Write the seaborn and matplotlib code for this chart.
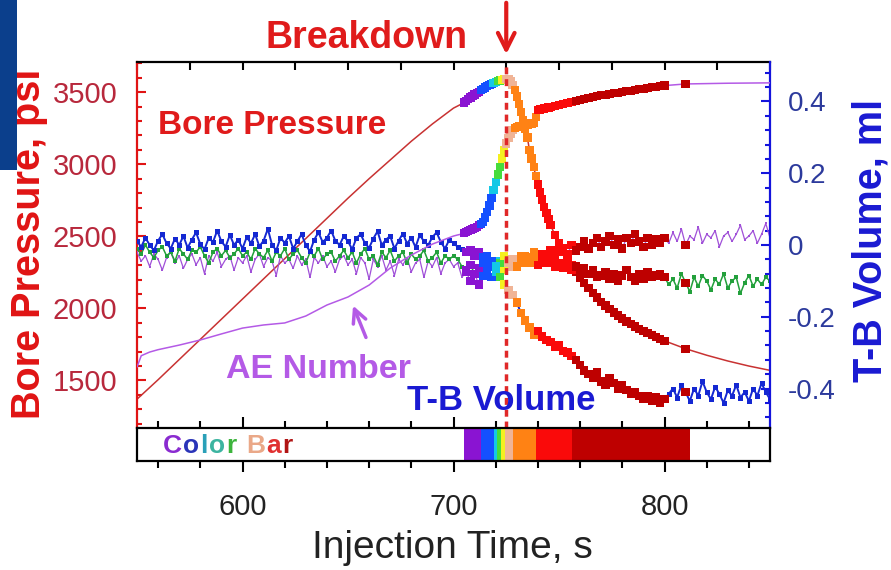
import numpy as np
import pandas as pd
import matplotlib
matplotlib.use("Agg")
import matplotlib.pyplot as plt
from matplotlib.patches import Rectangle
from matplotlib.text import Annotation
from matplotlib.ticker import MultipleLocator, FuncFormatter
import seaborn as sns

sns.set_theme(style="white")
plt.rcParams["font.family"] = ["Liberation Sans", "DejaVu Sans"]

# ---------------- measured series ----------------
# Bore pressure (psi)
pressure_t = ([550, 560, 570, 580, 590, 600, 610, 620, 630, 640, 650, 660, 670, 680, 690, 700, 702]
              + list(range(704, 746)) + list(range(746, 801, 2)) + [810, 820, 830, 840, 850])
pressure_psi = [1370, 1505, 1645, 1785, 1925, 2065, 2205, 2345, 2485, 2625, 2765, 2900, 3030, 3160,
                3280, 3390, 3405,
                3420, 3430, 3440, 3452, 3463, 3474, 3484, 3494, 3504, 3514,
                3524, 3533, 3542, 3550, 3558, 3565, 3571, 3577, 3582, 3586,
                3589, 3590, 3588, 3575, 3550, 3515, 3470, 3420, 3365, 3305,
                3245, 3185, 3100, 3040, 2980, 2920, 2860, 2805, 2755, 2705,
                2660, 2620,
                2580, 2510, 2450, 2395, 2345, 2300, 2255, 2215, 2175, 2140,
                2105, 2075, 2045, 2020, 1995, 1972, 1950, 1930, 1910, 1892,
                1875, 1858, 1843, 1828, 1814, 1800, 1787, 1775,
                1720, 1675, 1635, 1600, 1570]

# Cumulative acoustic-emission count
ae_t = ([550, 552, 556, 560, 570, 580, 590, 600, 610, 620, 630, 640, 650, 660, 670, 680, 690, 700, 702]
        + list(range(704, 746)) + list(range(746, 801, 2)) + [810, 820, 830, 840, 850])
ae_count = [333, 395, 415, 428, 453, 481, 514, 546, 563, 574, 612, 672, 716, 781, 874, 945, 1005, 1049, 1055,
            1060, 1065, 1071, 1076, 1082, 1087, 1093, 1100, 1108, 1116,
            1126, 1150, 1180, 1215, 1257, 1300, 1344, 1385, 1426, 1472,
            1519, 1555, 1585, 1610, 1629, 1640, 1645, 1648, 1650, 1653,
            1656, 1658, 1661, 1664, 1667, 1700, 1738, 1740, 1743, 1745,
            1748, 1751,
            1754, 1759, 1765, 1770, 1776, 1781, 1787, 1792, 1798, 1803,
            1809, 1814, 1818, 1821, 1825, 1829, 1832, 1836, 1840, 1843,
            1847, 1851, 1854, 1858, 1862, 1865, 1869, 1871,
            1880, 1882, 1884, 1885, 1886]

# Volume records (ml), one sample every 2 s
volume_t = list(range(550, 851, 2))
tb_volume = [0.01, -0.005, 0.02, 0.0, -0.015, 0.012, 0.03, 0.005, -0.01, 0.018,
             0.0, 0.025, -0.008, 0.015, 0.035, 0.002, -0.012, 0.02, 0.008, 0.04,
             0.01, -0.005, 0.028, 0.0, 0.015,
             -0.01, 0.022, 0.005, 0.03, -0.004, 0.012, 0.045, 0.0, -0.015, 0.02,
             0.006, 0.025, -0.01, 0.01, 0.03, 0.0, -0.018, 0.015, 0.035, 0.008,
             0.02, 0.04, 0.012, 0.0, 0.025,
             0.01, -0.012, 0.02, 0.03, 0.005, -0.008, 0.018, 0.038, 0.0, 0.015,
             0.025, -0.01, 0.012, 0.032, 0.004, 0.02, -0.006, 0.028, 0.01, 0.0,
             0.022, 0.035, 0.008, -0.01, 0.015,
             0.005, -0.005, -0.01, -0.02, -0.015, -0.03, -0.02, -0.035, -0.03, -0.045,
             -0.06, -0.09, -0.11, -0.125, -0.14, -0.16, -0.19, -0.21, -0.23, -0.25,
             -0.24, -0.255, -0.265, -0.27, -0.285,
             -0.28, -0.295, -0.3, -0.31, -0.32, -0.335, -0.35, -0.36, -0.37, -0.355,
             -0.38, -0.39, -0.37, -0.385, -0.4, -0.39, -0.405, -0.415, -0.41, -0.42,
             -0.43, -0.42, -0.435, -0.425, -0.44,
             -0.43, -0.415, -0.4, -0.425, -0.39, -0.41, -0.435, -0.4, -0.42, -0.38,
             -0.41, -0.43, -0.395, -0.415, -0.44, -0.405, -0.42, -0.39, -0.425, -0.41,
             -0.435, -0.4, -0.42, -0.385, -0.41, -0.43]
volume_green = [-0.01, -0.025, 0.0, -0.02, -0.035, -0.015, -0.005, -0.03, -0.02, -0.045,
                -0.01, -0.025, -0.04, -0.015, -0.02, -0.005, -0.03, -0.05, -0.02, -0.01,
                -0.03, -0.015, -0.035, -0.025, -0.01,
                -0.03, -0.02, -0.04, -0.01, -0.025, -0.035, -0.015, -0.045, -0.02, -0.03,
                -0.01, -0.04, -0.025, -0.015, -0.035, -0.05, -0.02, -0.03, -0.01, -0.04,
                -0.025, -0.02, -0.045, -0.03, -0.015,
                -0.035, -0.02, -0.05, -0.025, -0.01, -0.04, -0.03, -0.055, -0.02, -0.035,
                -0.015, -0.045, -0.03, -0.02, -0.05, -0.025, -0.04, -0.03, -0.015, -0.045,
                -0.035, -0.02, -0.05, -0.03, -0.04,
                -0.03, -0.04, -0.06, -0.07, -0.055, -0.08, -0.065, -0.05, -0.07, -0.06,
                -0.045, -0.05, -0.03, -0.05, -0.04, -0.06, -0.045, -0.03, -0.05, -0.04,
                -0.055, -0.035, -0.05, -0.045, -0.06,
                -0.05, -0.065, -0.055, -0.07, -0.06, -0.075, -0.065, -0.08, -0.07, -0.09,
                -0.085, -0.075, -0.095, -0.08, -0.1, -0.085, -0.07, -0.09, -0.1, -0.08,
                -0.095, -0.075, -0.09, -0.085, -0.08,
                -0.09, -0.11, -0.095, -0.12, -0.08, -0.105, -0.13, -0.09, -0.115, -0.085,
                -0.1, -0.125, -0.095, -0.11, -0.08, -0.12, -0.1, -0.09, -0.135, -0.105,
                -0.085, -0.115, -0.095, -0.11, -0.09, -0.1]
volume_violet = [-0.02, -0.045, -0.03, -0.06, -0.025, -0.04, -0.07, -0.035, -0.02, -0.05,
                 -0.03, -0.065, -0.04, -0.025, -0.055, -0.035, -0.08, -0.03, -0.045, -0.02,
                 -0.06, -0.04, -0.03, -0.07, -0.035,
                 -0.05, -0.03, -0.075, -0.04, -0.025, -0.06, -0.035, -0.045, -0.085, -0.03,
                 -0.05, -0.04, -0.065, -0.03, -0.055, -0.04, -0.09, -0.035, -0.05, -0.03,
                 -0.06, -0.045, -0.075, -0.04, -0.03,
                 -0.055, -0.04, -0.08, -0.035, -0.05, -0.095, -0.04, -0.06, -0.03, -0.07,
                 -0.045, -0.085, -0.04, -0.055, -0.035, -0.075, -0.05, -0.04, -0.09, -0.045,
                 -0.06, -0.035, -0.08, -0.05, -0.04,
                 -0.06, -0.05, -0.09, -0.075, -0.1, -0.08, -0.11, -0.085, -0.07, -0.09,
                 -0.075, -0.06, -0.07, -0.04, -0.06, -0.045, -0.03, -0.05, -0.035, -0.02,
                 -0.04, -0.025, -0.035, -0.015, -0.03,
                 -0.02, -0.01, -0.025, 0.0, -0.015, -0.005, 0.01, -0.01, 0.005, 0.02,
                 -0.005, 0.01, 0.025, 0.0, 0.015, -0.01, 0.02, 0.005, 0.03, 0.01,
                 -0.005, 0.02, 0.0, 0.015, 0.005,
                 0.02, 0.005, 0.035, 0.01, 0.045, 0.0, 0.025, 0.015, 0.05, 0.005,
                 0.03, 0.02, 0.04, -0.005, 0.025, 0.035, 0.01, 0.03, 0.055, 0.015,
                 0.025, 0.04, 0.005, 0.03, 0.06, 0.02]

breakdown_t = 725

# Time bands of the colour bar
band_edges = [705, 713, 719, 720.5, 722.5, 724.2, 728.2, 739.2, 756.1, 812]
band_names = ["purple", "blue", "cyan", "green", "yellow", "peach", "orange", "red", "darkred"]
band_colors = ["#8a14d2", "#1450ff", "#14c8e6", "#46dc3c", "#f5f01e", "#f0b496", "#ff8214", "#fa0a0a", "#be0000"]
band_palette = dict(zip(band_names, band_colors))

pressure = pd.DataFrame({"t": pressure_t, "v": pressure_psi})
ae = pd.DataFrame({"t": ae_t, "v": ae_count})
tb = pd.DataFrame({"t": volume_t, "v": tb_volume})
green = pd.DataFrame({"t": volume_t, "v": volume_green})
violet = pd.DataFrame({"t": volume_t, "v": volume_violet})


def banded(df):
    """Samples inside the colour-bar window, tagged with their time band."""
    keep = ((df["t"] >= 705) & (df["t"] <= 800)) | (df["t"] == 810)
    sub = df[keep].copy()
    idx = np.digitize(sub["t"], band_edges) - 1
    sub["band"] = [band_names[i] for i in idx]
    return sub


# ---------------- figure ----------------
W, H = 891, 570
fig = plt.figure(figsize=(W / 100, H / 100), dpi=100)
fig.patch.set_facecolor("white")

L, R, T, B = 137, 770, 62, 428
SB = 461
ax = fig.add_axes([L / W, 1 - B / H, (R - L) / W, (B - T) / H])
ax2 = ax.twinx()
ax3 = ax.twinx()
strip = fig.add_axes([L / W, 1 - SB / H, (R - L) / W, (SB - B) / H])

for a in (ax, ax2, ax3):
    a.set_xlim(550, 850)
    a.patch.set_alpha(0)
strip.set_xlim(550, 850)
ax.set_ylim(1170, 3710)
ax2.set_ylim(-0.51, 0.51)
ax3.set_ylim(0, 2000)

RED = "#e01414"
BLUE = "#1414dc"
VIOLET = "#b45ae6"
MS = 36

# pressure curve
sns.lineplot(data=pressure, x="t", y="v", ax=ax, color="#c83232", lw=1.1, zorder=2)
sns.scatterplot(data=banded(pressure), x="t", y="v", hue="band", palette=band_palette,
                marker="s", s=MS, linewidth=0, legend=False, ax=ax, zorder=3)

# volume records
sns.lineplot(data=violet, x="t", y="v", ax=ax2, color="#a050d8", lw=0.9,
             marker="s", markersize=2.0, markeredgewidth=0, zorder=2)
sns.lineplot(data=green, x="t", y="v", ax=ax2, color="#23a03c", lw=1.1,
             marker="s", markersize=2.8, markeredgewidth=0, zorder=2)
sns.lineplot(data=tb, x="t", y="v", ax=ax2, color="#1428d2", lw=1.4,
             marker="s", markersize=3.6, markeredgewidth=0, zorder=2)
for df in (violet, green, tb):
    sns.scatterplot(data=banded(df), x="t", y="v", hue="band", palette=band_palette,
                    marker="s", s=MS, linewidth=0, legend=False, ax=ax2, zorder=3)

# AE count
sns.lineplot(data=ae, x="t", y="v", ax=ax3, color=VIOLET, lw=1.1, zorder=2)
sns.scatterplot(data=banded(ae), x="t", y="v", hue="band", palette=band_palette,
                marker="s", s=MS, linewidth=0, legend=False, ax=ax3, zorder=3)
ax3.axvline(breakdown_t, color="#e02828", lw=2.5, ls=(0, (2, 1.4)), zorder=6)

# ---------------- axes styling ----------------
for a in (ax, ax2, ax3):
    a.set_xlabel("")
    a.set_ylabel("")
    a.grid(False)

ax.spines["right"].set_visible(False)
ax.spines["bottom"].set_visible(False)
ax.spines["left"].set_color(RED)
ax.spines["left"].set_linewidth(1.6)
ax.spines["top"].set_color("black")
ax.spines["top"].set_linewidth(1.6)
for s in ("left", "top", "bottom"):
    ax2.spines[s].set_visible(False)
ax2.spines["right"].set_color(BLUE)
ax2.spines["right"].set_linewidth(1.6)
ax3.axis("off")

ax.xaxis.set_major_locator(MultipleLocator(100))
ax.xaxis.set_minor_locator(MultipleLocator(25))
ax.tick_params(axis="x", which="both", direction="in", top=True, bottom=False,
               labeltop=False, labelbottom=False, color="black", width=1.5, length=5.5)

ax.yaxis.set_major_locator(MultipleLocator(500))
ax.yaxis.set_minor_locator(MultipleLocator(100))
ax.tick_params(axis="y", which="both", direction="in", left=True, right=False,
               color=RED, width=1.5)
ax.tick_params(axis="y", which="major", length=6.5, labelsize=21, labelcolor="#b8283c", pad=14)
ax.tick_params(axis="y", which="minor", length=3.5)
ax.yaxis.set_major_formatter(FuncFormatter(lambda v, p: f"{v:.0f}"))

ax2.yaxis.set_major_locator(MultipleLocator(0.2))
ax2.yaxis.set_minor_locator(MultipleLocator(0.04))
ax2.tick_params(axis="y", which="both", direction="in", right=True, left=False,
                color=BLUE, width=1.5)
ax2.tick_params(axis="y", which="major", length=6.5, labelsize=20, labelcolor="#2c3a9c", pad=13)
ax2.tick_params(axis="y", which="minor", length=3.5)
ax2.yaxis.set_major_formatter(FuncFormatter(lambda v, p: "0" if abs(v) < 1e-9 else f"{v:.1f}"))
ax2.tick_params(axis="x", which="both", top=False, bottom=False, labelbottom=False)

# colour bar strip
strip.set_ylim(0, 1)
strip.barh(y=0.5, width=np.diff(band_edges), left=band_edges[:-1], height=0.94,
           color=band_colors, linewidth=0)
strip.set_yticks([])
for s in strip.spines.values():
    s.set_color("black")
    s.set_linewidth(1.6)
    s.set_visible(True)
strip.xaxis.set_major_locator(MultipleLocator(100))
strip.xaxis.set_minor_locator(MultipleLocator(20))
strip.tick_params(axis="x", which="both", direction="out", top=True, bottom=True,
                  color="black", width=1.5)
strip.tick_params(axis="x", which="major", length=8, labelsize=21, labelcolor="#222222", pad=15)
strip.tick_params(axis="x", which="minor", length=5)
strip.grid(False)


# ---------------- text ----------------
def fx(px):
    return px / W


def fy(py):
    return 1 - py / H


fig.text(fx(367), fy(38), "Breakdown", color="#e01b1b", fontsize=27, fontweight="bold",
         ha="center", va="center")
ax.annotate("", xy=(breakdown_t, fy(57)), xycoords=("data", "figure fraction"),
            xytext=(breakdown_t, fy(0)), textcoords=("data", "figure fraction"),
            arrowprops=dict(arrowstyle="->", color="#e01b1b", lw=3, mutation_scale=30),
            annotation_clip=False)
fig.text(fx(272), fy(125), "Bore Pressure", color="#e01b1b", fontsize=24, fontweight="bold",
         ha="center", va="center")
fig.text(fx(318), fy(370), "AE Number", color=VIOLET, fontsize=24.5, fontweight="bold",
         ha="center", va="center")
ax.annotate("", xy=(fx(352), fy(303)), xycoords="figure fraction",
            xytext=(fx(367), fy(340)), textcoords="figure fraction",
            arrowprops=dict(arrowstyle="->", color=VIOLET, lw=2.5, mutation_scale=24),
            annotation_clip=False)
fig.text(fx(501), fy(400), "T-B Volume", color="#1a1ad2", fontsize=25, fontweight="bold",
         ha="center", va="center")

fig.text(fx(29), fy(244), "Bore Pressure, psi", color=RED, fontsize=28.5, fontweight="bold",
         rotation=90, ha="center", va="center")
fig.text(fx(871), fy(240), "T-B Volume, ml", color="#1a1ad2", fontsize=28.5, fontweight="bold",
         rotation=90, ha="center", va="center")
fig.text(fx(452), fy(548), "Injection Time, s", color="#222222", fontsize=28,
         ha="center", va="center")

# multicoloured "Color Bar" label, one letter after another
label_letters = ["C", "o", "l", "o", "r", " ", "B", "a", "r"]
label_colors = ["#8a2bd0", "#2a34b8", "#2aa0b8", "#3cb4a0", "#3cb43c", None,
                "#eaa888", "#e03030", "#b01414"]
cur = fig.text(fx(163), fy(446), label_letters[0], color=label_colors[0], fontsize=19,
               fontweight="bold", ha="left", va="center")
gap = 0.0
for ch, col in zip(label_letters[1:], label_colors[1:]):
    if ch == " ":
        gap = 5.5
        continue
    cur = fig.add_artist(Annotation(ch, xy=(1, 0), xycoords=cur,
                                    xytext=(0.9 + gap, 0), textcoords="offset points",
                                    color=col, fontsize=19, fontweight="bold",
                                    ha="left", va="bottom"))
    gap = 0.0

# slide edge band
fig.add_artist(Rectangle((0, fy(170)), fx(17), 170 / H, transform=fig.transFigure,
                         facecolor="#0b3f8c", edgecolor="none", zorder=5))

fig.savefig("out.png", dpi=100, facecolor="white")
